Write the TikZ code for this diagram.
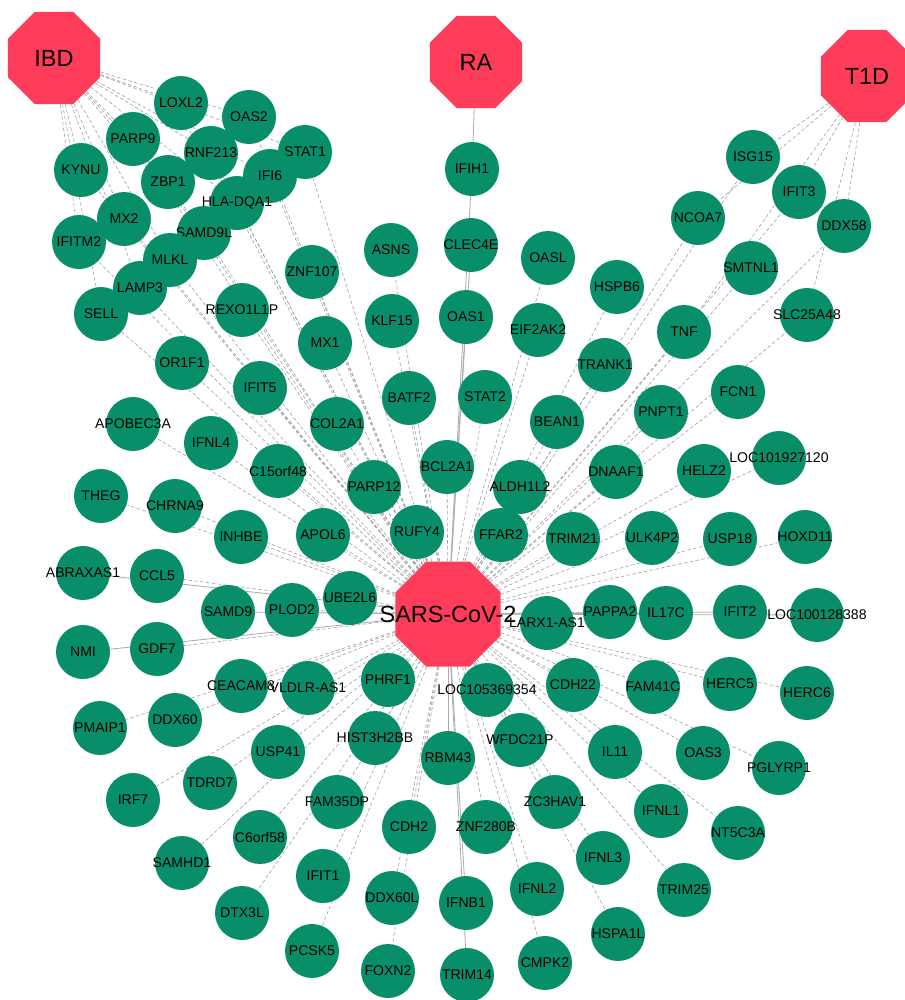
\documentclass[tikz,border=0pt]{standalone}
\usepackage{fontspec}
\setmainfont{Liberation Sans}
\usetikzlibrary{shapes.geometric,backgrounds}
\definecolor{genegreen}{RGB}{8,143,106}
\definecolor{hubred}{RGB}{255,60,90}

\begin{document}
\begin{tikzpicture}[
    x=0.03cm, y=-0.03cm,
    gene/.style={circle, fill=genegreen, minimum size=1.62cm, inner sep=0pt, label={[genetext]center:#1}},
    genetext/.style={font=\fontsize{12}{12}\selectfont, inner sep=0pt},
    hub/.style={regular polygon, regular polygon sides=8, fill=hubred, minimum size=3cm, inner sep=0pt, label={[hubtext]center:#1}},
    hubtext/.style={font=\fontsize{20}{20}\selectfont, inner sep=0pt},
    link/.style={densely dashed, gray!75, line width=0.5pt},
    slink/.style={gray!65, line width=0.7pt}
]
\useasboundingbox (0,0) rectangle (905,1000);

% Genes, top left (IBD side)
\node[gene=LOXL2] (loxl2) at (181,103) {};
\node[gene=OAS2] (oas2) at (249,117) {};
\node[gene=PARP9] (parp9) at (133,139) {};
\node[gene=RNF213] (rnf213) at (211,153) {};
\node[gene=STAT1] (stat1) at (305,152) {};
\node[gene=KYNU] (kynu) at (81,170) {};
\node[gene=ZBP1] (zbp1) at (168,182) {};
\node[gene=IFI6] (ifi6) at (270,176) {};
\node[gene=MX2] (mx2) at (124,219) {};
\node[gene=SAMD9L] (samd9l) at (204,233) {};
\node[gene=HLA-DQA1] (hladqa1) at (237,203) {};
\node[gene=IFITM2] (ifitm2) at (79,242) {};
\node[gene=MLKL] (mlkl) at (170,260) {};
\node[gene=LAMP3] (lamp3) at (140,288) {};
\node[gene=SELL] (sell) at (101,314) {};

% Genes, top middle
\node[gene=IFIH1] (ifih1) at (472,169) {};
\node[gene=CLEC4E] (clec4e) at (471,245) {};
\node[gene=ASNS] (asns) at (391,250) {};
\node[gene=OASL] (oasl) at (548,258) {};
\node[gene=ZNF107] (znf107) at (312,272) {};
\node[gene=REXO1L1P] (rexo1l1p) at (242,310) {};
\node[gene=KLF15] (klf15) at (392,321) {};
\node[gene=OAS1] (oas1) at (466,317) {};
\node[gene=EIF2AK2] (eif2ak2) at (538,330) {};
\node[gene=MX1] (mx1) at (325,343) {};
\node[gene=OR1F1] (or1f1) at (182,363) {};
\node[gene=IFIT5] (ifit5) at (260,388) {};
\node[gene=BATF2] (batf2) at (409,398) {};
\node[gene=STAT2] (stat2) at (485,397) {};
\node[gene=BEAN1] (bean1) at (557,422) {};
\node[gene=COL2A1] (col2a1) at (337,424) {};
\node[gene=BCL2A1] (bcl2a1) at (447,467) {};
\node[gene=PARP12] (parp12) at (374,487) {};
\node[gene=ALDH1L2] (aldh1l2) at (520,487) {};

% Genes, top right (T1D side)
\node[gene=ISG15] (isg15) at (753,157) {};
\node[gene=IFIT3] (ifit3) at (799,192) {};
\node[gene=NCOA7] (ncoa7) at (698,218) {};
\node[gene=DDX58] (ddx58) at (844,226) {};
\node[gene=SMTNL1] (smtnl1) at (751,268) {};
\node[gene=HSPB6] (hspb6) at (617,287) {};
\node[gene=SLC25A48] (slc25a48) at (807,315) {};
\node[gene=TNF] (tnf) at (684,332) {};
\node[gene=TRANK1] (trank1) at (605,365) {};
\node[gene=FCN1] (fcn1) at (738,392) {};
\node[gene=PNPT1] (pnpt1) at (661,412) {};
\node[gene=LOC101927120] (loc101927120) at (779,458) {};
\node[gene=DNAAF1] (dnaaf1) at (616,472) {};
\node[gene=HELZ2] (helz2) at (704,471) {};

% Genes, middle left
\node[gene=APOBEC3A] (apobec3a) at (133,424) {};
\node[gene=IFNL4] (ifnl4) at (211,443) {};
\node[gene=C15orf48] (c15orf48) at (278,471) {};
\node[gene=THEG] (theg) at (101,496) {};
\node[gene=CHRNA9] (chrna9) at (175,506) {};
\node[gene=INHBE] (inhbe) at (241,537) {};
\node[gene=APOL6] (apol6) at (323,535) {};
\node[gene=RUFY4] (rufy4) at (417,532) {};
\node[gene=ABRAXAS1] (abraxas1) at (83,573) {};
\node[gene=CCL5] (ccl5) at (157,576) {};
\node[gene=SAMD9] (samd9) at (228,612) {};
\node[gene=PLOD2] (plod2) at (292,610) {};
\node[gene=UBE2L6] (ube2l6) at (350,598) {};
\node[gene=NMI] (nmi) at (83,652) {};
\node[gene=GDF7] (gdf7) at (157,649) {};

% Genes, middle right
\node[gene=FFAR2] (ffar2) at (501,535) {};
\node[gene=TRIM21] (trim21) at (573,539) {};
\node[gene=ULK4P2] (ulk4p2) at (652,538) {};
\node[gene=USP18] (usp18) at (730,539) {};
\node[gene=HOXD11] (hoxd11) at (805,537) {};
\node[gene=PAPPA2] (pappa2) at (610,612) {};
\node[gene=IL17C] (il17c) at (666,613) {};
\node[gene=IFIT2] (ifit2) at (740,612) {};
\node[gene=LOC100128388] (loc100128388) at (817,615) {};
\node[gene=LARX1-AS1] (larx1as1) at (547,623) {};

% Genes, bottom
\node[gene=CEACAM8] (ceacam8) at (241,686) {};
\node[gene=VLDLR-AS1] (vldlras1) at (308,688) {};
\node[gene=PHRF1] (phrf1) at (388,680) {};
\node[gene=LOC105369354] (loc105369354) at (487,690) {};
\node[gene=CDH22] (cdh22) at (573,685) {};
\node[gene=FAM41C] (fam41c) at (653,687) {};
\node[gene=HERC5] (herc5) at (730,684) {};
\node[gene=HERC6] (herc6) at (807,693) {};
\node[gene=PMAIP1] (pmaip1) at (100,728) {};
\node[gene=DDX60] (ddx60) at (175,720) {};
\node[gene=USP41] (usp41) at (278,752) {};
\node[gene=HIST3H2BB] (hist3h2bb) at (375,738) {};
\node[gene=RBM43] (rbm43) at (448,758) {};
\node[gene=WFDC21P] (wfdc21p) at (520,740) {};
\node[gene=IL11] (il11) at (615,752) {};
\node[gene=OAS3] (oas3) at (703,753) {};
\node[gene=PGLYRP1] (pglyrp1) at (779,768) {};
\node[gene=IRF7] (irf7) at (133,800) {};
\node[gene=TDRD7] (tdrd7) at (210,783) {};
\node[gene=FAM35DP] (fam35dp) at (337,802) {};
\node[gene=CDH2] (cdh2) at (409,827) {};
\node[gene=ZNF280B] (znf280b) at (486,827) {};
\node[gene=ZC3HAV1] (zc3hav1) at (555,802) {};
\node[gene=IFNL1] (ifnl1) at (661,811) {};
\node[gene=NT5C3A] (nt5c3a) at (738,833) {};
\node[gene=C6orf58] (c6orf58) at (260,837) {};
\node[gene=SAMHD1] (samhd1) at (182,863) {};
\node[gene=IFIT1] (ifit1) at (323,876) {};
\node[gene=DDX60L] (ddx60l) at (392,898) {};
\node[gene=IFNB1] (ifnb1) at (466,903) {};
\node[gene=IFNL2] (ifnl2) at (537,889) {};
\node[gene=IFNL3] (ifnl3) at (603,858) {};
\node[gene=TRIM25] (trim25) at (684,890) {};
\node[gene=DTX3L] (dtx3l) at (242,913) {};
\node[gene=PCSK5] (pcsk5) at (312,951) {};
\node[gene=FOXN2] (foxn2) at (388,971) {};
\node[gene=TRIM14] (trim14) at (467,975) {};
\node[gene=CMPK2] (cmpk2) at (545,963) {};
\node[gene=HSPA1L] (hspa1l) at (618,934) {};

% Diseases and virus
\node[hub=IBD] (ibd) at (54,58) {};
\node[hub=RA] (ra) at (476,62) {};
\node[hub=T1D] (t1d) at (867,76) {};
\node[hub=SARS-CoV-2, minimum size=3.41cm] (sars) at (448,614) {};

\begin{scope}[on background layer]
\fill[white] (0,0) rectangle (905,1000);

% Disease links
\draw[link] (ibd) -- (loxl2);
\draw[link] (ibd) -- (oas2);
\draw[link] (ibd) -- (stat1);
\draw[link] (ibd) -- (parp9);
\draw[link] (ibd) -- (rnf213);
\draw[link] (ibd) -- (kynu);
\draw[link] (ibd) -- (zbp1);
\draw[link] (ibd) -- (ifi6);
\draw[link] (ibd) -- (hladqa1);
\draw[link] (ibd) -- (mx2);
\draw[link] (ibd) -- (samd9l);
\draw[link] (ibd) -- (ifitm2);
\draw[link] (ibd) -- (mlkl);
\draw[link] (ibd) -- (lamp3);
\draw[link] (ibd) -- (sell);
\draw[slink] (ra) -- (ifih1);
\draw[link] (t1d) -- (isg15);
\draw[link] (t1d) -- (ncoa7);
\draw[link] (t1d) -- (ifit3);
\draw[link] (t1d) -- (tnf);
\draw[link] (t1d) -- (ddx58);
\draw[link] (t1d) -- (slc25a48);

% Virus links
\draw[link] (sars) -- (loxl2);
\draw[link] (sars) -- (oas2);
\draw[link] (sars) -- (parp9);
\draw[link] (sars) -- (rnf213);
\draw[link] (sars) -- (stat1);
\draw[link] (sars) -- (kynu);
\draw[link] (sars) -- (zbp1);
\draw[link] (sars) -- (ifi6);
\draw[link] (sars) -- (mx2);
\draw[link] (sars) -- (samd9l);
\draw[link] (sars) -- (hladqa1);
\draw[link] (sars) -- (ifitm2);
\draw[link] (sars) -- (mlkl);
\draw[link] (sars) -- (lamp3);
\draw[link] (sars) -- (sell);
\draw[slink] (sars) -- (ifih1);
\draw[slink] (sars) -- (clec4e);
\draw[link] (sars) -- (asns);
\draw[link] (sars) -- (oasl);
\draw[link] (sars) -- (znf107);
\draw[link] (sars) -- (rexo1l1p);
\draw[link] (sars) -- (klf15);
\draw[slink] (sars) -- (oas1);
\draw[link] (sars) -- (eif2ak2);
\draw[link] (sars) -- (mx1);
\draw[link] (sars) -- (or1f1);
\draw[link] (sars) -- (ifit5);
\draw[link] (sars) -- (batf2);
\draw[link] (sars) -- (stat2);
\draw[link] (sars) -- (bean1);
\draw[link] (sars) -- (col2a1);
\draw[link] (sars) -- (bcl2a1);
\draw[link] (sars) -- (parp12);
\draw[link] (sars) -- (aldh1l2);
\draw[link] (sars) -- (isg15);
\draw[link] (sars) -- (ifit3);
\draw[link] (sars) -- (ncoa7);
\draw[link] (sars) -- (ddx58);
\draw[link] (sars) -- (smtnl1);
\draw[link] (sars) -- (hspb6);
\draw[link] (sars) -- (slc25a48);
\draw[link] (sars) -- (tnf);
\draw[link] (sars) -- (trank1);
\draw[link] (sars) -- (fcn1);
\draw[link] (sars) -- (pnpt1);
\draw[link] (sars) -- (loc101927120);
\draw[link] (sars) -- (dnaaf1);
\draw[link] (sars) -- (helz2);
\draw[link] (sars) -- (apobec3a);
\draw[link] (sars) -- (ifnl4);
\draw[link] (sars) -- (c15orf48);
\draw[link] (sars) -- (theg);
\draw[link] (sars) -- (chrna9);
\draw[link] (sars) -- (inhbe);
\draw[link] (sars) -- (apol6);
\draw[link] (sars) -- (rufy4);
\draw[slink] (sars) -- (abraxas1);
\draw[link] (sars) -- (ccl5);
\draw[slink] (sars) -- (samd9);
\draw[link] (sars) -- (plod2);
\draw[link] (sars) -- (ube2l6);
\draw[slink] (sars) -- (nmi);
\draw[link] (sars) -- (gdf7);
\draw[link] (sars) -- (ffar2);
\draw[link] (sars) -- (trim21);
\draw[link] (sars) -- (ulk4p2);
\draw[link] (sars) -- (usp18);
\draw[link] (sars) -- (hoxd11);
\draw[link] (sars) -- (pappa2);
\draw[slink] (sars) -- (il17c);
\draw[slink] (sars) -- (ifit2);
\draw[slink] (sars) -- (loc100128388);
\draw[link] (sars) -- (larx1as1);
\draw[link] (sars) -- (ceacam8);
\draw[link] (sars) -- (vldlras1);
\draw[link] (sars) -- (phrf1);
\draw[link] (sars) -- (loc105369354);
\draw[link] (sars) -- (cdh22);
\draw[link] (sars) -- (fam41c);
\draw[link] (sars) -- (herc5);
\draw[link] (sars) -- (herc6);
\draw[link] (sars) -- (pmaip1);
\draw[link] (sars) -- (ddx60);
\draw[link] (sars) -- (usp41);
\draw[link] (sars) -- (hist3h2bb);
\draw[slink] (sars) -- (rbm43);
\draw[link] (sars) -- (wfdc21p);
\draw[link] (sars) -- (il11);
\draw[link] (sars) -- (oas3);
\draw[link] (sars) -- (pglyrp1);
\draw[link] (sars) -- (irf7);
\draw[link] (sars) -- (tdrd7);
\draw[link] (sars) -- (fam35dp);
\draw[link] (sars) -- (cdh2);
\draw[link] (sars) -- (znf280b);
\draw[link] (sars) -- (zc3hav1);
\draw[link] (sars) -- (ifnl1);
\draw[link] (sars) -- (nt5c3a);
\draw[link] (sars) -- (c6orf58);
\draw[link] (sars) -- (samhd1);
\draw[link] (sars) -- (ifit1);
\draw[link] (sars) -- (ddx60l);
\draw[slink] (sars) -- (ifnb1);
\draw[link] (sars) -- (ifnl2);
\draw[link] (sars) -- (ifnl3);
\draw[link] (sars) -- (trim25);
\draw[link] (sars) -- (dtx3l);
\draw[link] (sars) -- (pcsk5);
\draw[link] (sars) -- (foxn2);
\draw[slink] (sars) -- (trim14);
\draw[link] (sars) -- (cmpk2);
\draw[link] (sars) -- (hspa1l);
\end{scope}

\end{tikzpicture}
\end{document}
